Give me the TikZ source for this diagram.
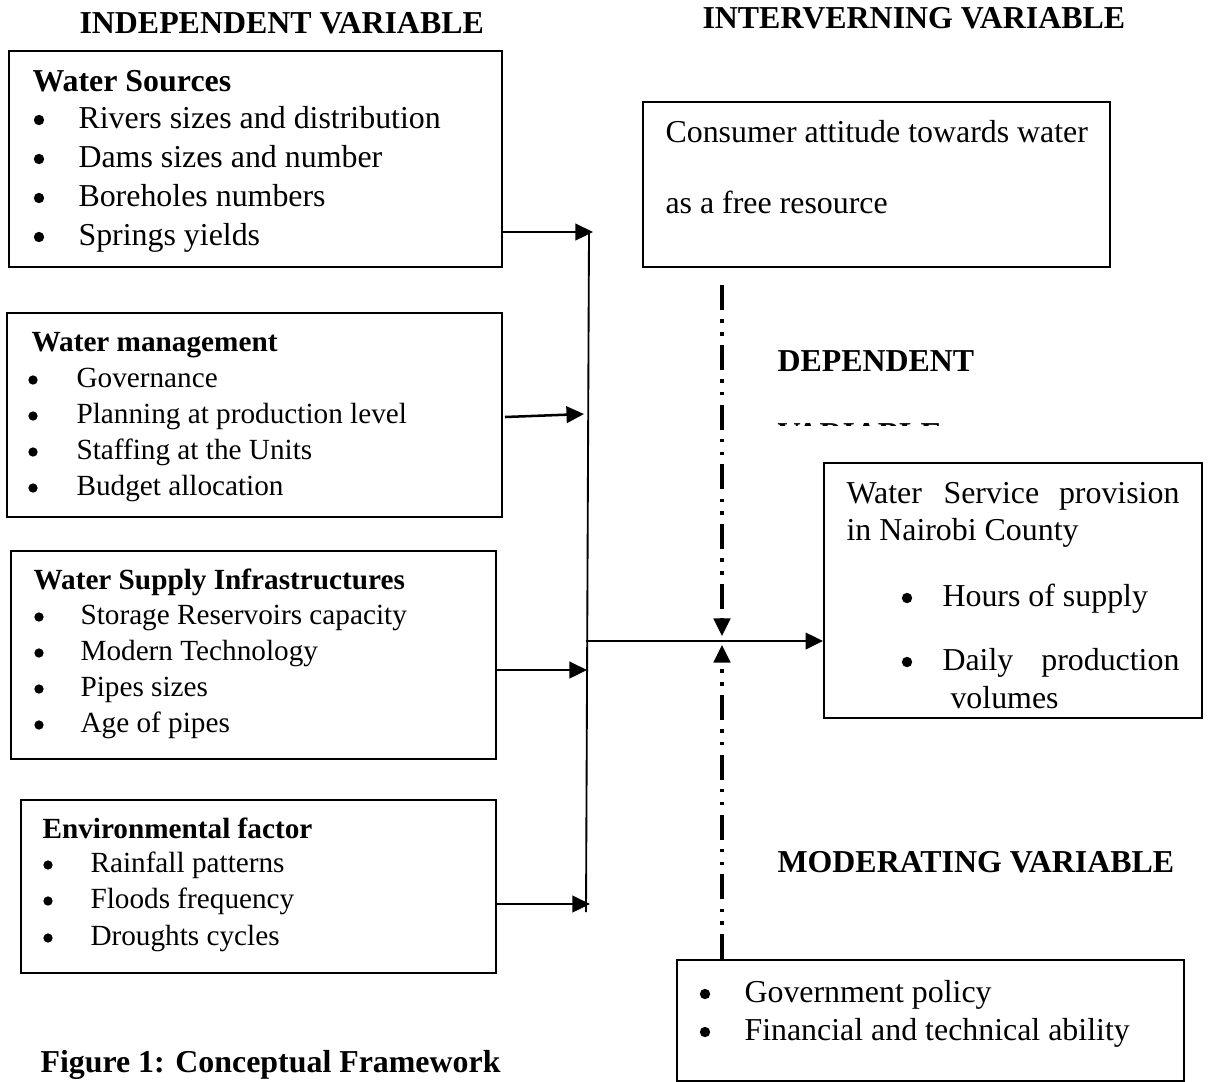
\documentclass[tikz,border=0pt]{standalone}
\usepackage{fontspec}
\setmainfont{Liberation Serif}
\usetikzlibrary{arrows.meta,fit}
\begin{document}
\begin{tikzpicture}[x=0.3763pt,y=-0.3763pt,
  box/.style={draw, line width=0.7pt, inner sep=0pt},
  tipa/.style={-{Triangle[length=6.6pt,width=6.2pt]}},
  arr/.style={line width=0.95pt, tipa},
  vline/.style={line width=0.7pt},
  ddl/.style={line width=1.2pt, dash pattern=on 9.4pt off 3.5pt on 1.3pt off 3.5pt on 1.3pt off 3.5pt},
  hd/.style={anchor=base west, inner sep=0pt, font=\fontsize{12}{14}\selectfont\bfseries},
  t12/.style={anchor=base west, inner sep=0pt, font=\fontsize{12}{14}\selectfont},
  t11/.style={anchor=base west, inner sep=0pt, font=\fontsize{11}{13}\selectfont},
  b11/.style={anchor=base west, inner sep=0pt, font=\fontsize{11}{13}\selectfont\bfseries},
  dotb/.style={circle, fill, inner sep=0pt, minimum size=3.9pt},
  dots/.style={circle, fill, inner sep=0pt, minimum size=3.5pt}]
\useasboundingbox (0,0) rectangle (1213,1081);

% headers
\node[hd] (hind) at (79,33) {INDEPENDENT VARIABLE};
\node[hd] (hint) at (702,28) {INTERVERNING VARIABLE};
\node[hd] (hdep) at (777,371) {DEPENDENT};
\begin{scope}
  \clip (770,419) rectangle (960,425.5);
  \node[hd] (hdepv) at (777,444) {VARIABLE};
\end{scope}
\node[hd] (hmod) at (777,872) {MODERATING VARIABLE};
\node[hd] (cap) at (40,1072) {Figure 1: Conceptual Framework};

% box 1: water sources
\node[box, fit={(9,51) (502,267)}] (ws) {};
\node[hd] (ws0) at (32,91) {Water Sources};
\node[dotb] (wsb1) at (39,120) {}; \node[t12] (ws1) at (78,128) {Rivers sizes and distribution};
\node[dotb] (wsb2) at (39,159) {}; \node[t12] (ws2) at (78,167) {Dams sizes and number};
\node[dotb] (wsb3) at (39,198) {}; \node[t12] (ws3) at (78,206) {Boreholes numbers};
\node[dotb] (wsb4) at (39,237) {}; \node[t12] (ws4) at (78,245) {Springs yields};

% box 2: water management
\node[box, fit={(7,313) (502,517)}] (wm) {};
\node[b11] (wm0) at (31,351) {Water management};
\node[dots] (wmb1) at (33,380) {}; \node[t11] (wm1) at (76,387) {Governance};
\node[dots] (wmb2) at (33,416) {}; \node[t11] (wm2) at (76,423) {Planning at production level};
\node[dots] (wmb3) at (33,452) {}; \node[t11] (wm3) at (76,459) {Staffing at the Units};
\node[dots] (wmb4) at (33,488) {}; \node[t11] (wm4) at (76,495) {Budget allocation};

% box 3: water supply infrastructures
\node[box, fit={(11,551) (496,759)}] (wi) {};
\node[b11] (wi0) at (33,589) {Water Supply Infrastructures};
\node[dots] (wib1) at (39,617) {}; \node[t11] (wi1) at (80,624) {Storage Reservoirs capacity};
\node[dots] (wib2) at (39,653) {}; \node[t11] (wi2) at (80,660) {Modern Technology};
\node[dots] (wib3) at (39,689) {}; \node[t11] (wi3) at (80,696) {Pipes sizes};
\node[dots] (wib4) at (39,725) {}; \node[t11] (wi4) at (80,732) {Age of pipes};

% box 4: environmental factor
\node[box, fit={(21,800) (496,973)}] (ef) {};
\node[b11] (ef0) at (42,838) {Environmental factor};
\node[dots] (efb1) at (48,865) {}; \node[t11] (ef1) at (90,872) {Rainfall patterns};
\node[dots] (efb2) at (48,901) {}; \node[t11] (ef2) at (90,908) {Floods frequency};
\node[dots] (efb3) at (48,938) {}; \node[t11] (ef3) at (90,945) {Droughts cycles};

% intervening box
\node[box, fit={(643,102) (1110,267)}] (ca) {};
\node[t12] (ca1) at (665,142) {Consumer attitude towards water};
\node[t12] (ca2) at (665,213) {as a free resource};

% dependent box
\node[box, fit={(824,463) (1202,718)}] (ds) {};
\node[t12] (ds1a) at (846,503) {Water};
\node[t12] (ds1b) at (943,503) {Service};
\node[t12, anchor=base east] (ds1c) at (1180,503) {provision};
\node[t12] (ds2) at (846,540) {in Nairobi County};
\node[dotb] (dsb1) at (907,598) {}; \node[t12] (ds3) at (942,606) {Hours of supply};
\node[dotb] (dsb2) at (907,662) {}; \node[t12] (ds4a) at (942,670) {Daily};
\node[t12, anchor=base east] (ds4b) at (1180,670) {production};
\node[t12] (ds5) at (950,708) {volumes};

% moderating box
\node[box, fit={(677,960) (1184,1081)}] (mod) {};
\node[dotb] (modb1) at (705,994) {}; \node[t12] (mod1) at (744,1002) {Government policy};
\node[dotb] (modb2) at (705,1032) {}; \node[t12] (mod2) at (744,1040) {Financial and technical ability};

% connectors
\coordinate (vtop) at (589,232);
\coordinate (vbot) at (586,912);
\coordinate (jws) at (593,232);
\coordinate (wms) at (505,417);
\coordinate (jwm) at (584,414);
\coordinate (jwi) at (587,670);
\coordinate (jef) at (590,904);
\coordinate (jmain) at (586,641);
\coordinate (dtop) at (722,285);
\coordinate (dmid1) at (722,636);
\coordinate (dmid2) at (722,645);

\draw[vline] (vtop) -- (vbot);
\draw[arr] (ws.east |- jws) -- (jws);
\draw[arr] (wms) -- (jwm);
\draw[arr] (wi.east |- jwi) -- (jwi);
\draw[arr] (ef.east |- jef) -- (jef);
\draw[arr] (jmain) -- (ds.west |- jmain);
\draw[ddl, tipa] (dtop) -- (dmid1);
\draw[ddl, tipa] (mod.north -| dtop) -- (dmid2);
\end{tikzpicture}
\end{document}
